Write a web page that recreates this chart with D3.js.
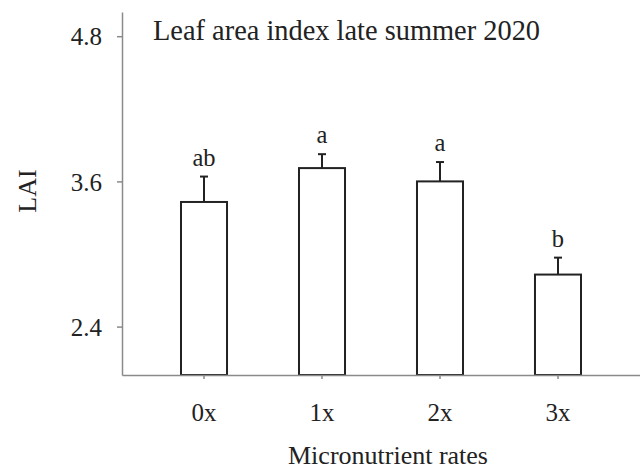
<!DOCTYPE html>
<html>
<head>
<meta charset="utf-8">
<script src="https://cdn.jsdelivr.net/npm/d3@7"></script>
<style>
  body { margin: 0; background: #fff; }
  text { font-family: "Liberation Serif", "Times New Roman", serif; fill: #222; }
</style>
</head>
<body>
<div id="chart"></div>
<script>
// datos
var rates = ["0x", "1x", "2x", "3x"];
var lai = [3.43, 3.71, 3.60, 2.83];
var errores = [0.21, 0.115, 0.16, 0.14];
var letras = ["ab", "a", "a", "b"];
var yTicks = [2.4, 3.6, 4.8];

var width = 640, height = 469;
var mLeft = 122, mRight = 640, mTop = 12, mBottom = 375;

var svg = d3.select("#chart")
    .append("svg")
    .attr("width", width)
    .attr("height", height);

var x = d3.scaleBand()
    .domain(rates)
    .range([mLeft, mRight])
    .paddingInner(0.61)
    .paddingOuter(0.5);

var y = d3.scaleLinear()
    .domain([2.0, 5.0])
    .range([mBottom, mTop]);

var datos = rates.map(function (r, i) {
    return { rate: r, value: lai[i], se: errores[i], letra: letras[i] };
});

// eje Y
var yAxis = svg.append("g")
    .attr("transform", "translate(" + mLeft + ",0)")
    .call(d3.axisLeft(y).tickValues(yTicks).tickFormat(d3.format(".1f")).tickSize(5).tickSizeOuter(0).tickPadding(15));
yAxis.selectAll("path, line").attr("stroke", "#8a8a8a").attr("stroke-width", 1.5);
yAxis.selectAll("text").style("font-size", "25px").attr("dy", "0.35em");

// barras
svg.selectAll(".bar")
    .data(datos)
    .enter()
    .append("rect")
    .attr("class", "bar")
    .attr("x", d => x(d.rate))
    .attr("y", d => y(d.value))
    .attr("width", x.bandwidth())
    .attr("height", d => y(2.0) - y(d.value))
    .attr("fill", "#fff")
    .attr("stroke", "#222")
    .attr("stroke-width", 2);

// barras de error
var err = svg.selectAll(".err")
    .data(datos)
    .enter()
    .append("g")
    .attr("class", "err");
err.append("line")
    .attr("x1", d => x(d.rate) + x.bandwidth() / 2)
    .attr("x2", d => x(d.rate) + x.bandwidth() / 2)
    .attr("y1", d => y(d.value))
    .attr("y2", d => y(d.value + d.se))
    .attr("stroke", "#222")
    .attr("stroke-width", 2);
err.append("line")
    .attr("x1", d => x(d.rate) + x.bandwidth() / 2 - 4)
    .attr("x2", d => x(d.rate) + x.bandwidth() / 2 + 4)
    .attr("y1", d => y(d.value + d.se))
    .attr("y2", d => y(d.value + d.se))
    .attr("stroke", "#222")
    .attr("stroke-width", 2);

// letras de significancia
svg.selectAll(".letra")
    .data(datos)
    .enter()
    .append("text")
    .attr("class", "letra")
    .attr("x", d => x(d.rate) + x.bandwidth() / 2)
    .attr("y", d => y(d.value + d.se) - 11)
    .attr("text-anchor", "middle")
    .style("font-size", "24.5px")
    .text(d => d.letra);

// eje X
var xAxis = svg.append("g")
    .attr("transform", "translate(0," + mBottom + ")")
    .call(d3.axisBottom(x).tickSize(4).tickSizeOuter(0));
xAxis.selectAll("path, line").attr("stroke", "#8a8a8a").attr("stroke-width", 1.5);
xAxis.selectAll("text").style("font-size", "25px").attr("y", 46).attr("dy", "0");

// titulos
svg.append("text")
    .attr("x", 153)
    .attr("y", 39.5)
    .style("font-size", "28.4px")
    .text("Leaf area index late summer 2020");

svg.append("text")
    .attr("x", 388)
    .attr("y", 463.5)
    .attr("text-anchor", "middle")
    .style("font-size", "26px")
    .text("Micronutrient rates");

svg.append("text")
    .attr("transform", "translate(36,191) rotate(-90)")
    .attr("text-anchor", "middle")
    .style("font-size", "26px")
    .text("LAI");
</script>
</body>
</html>
